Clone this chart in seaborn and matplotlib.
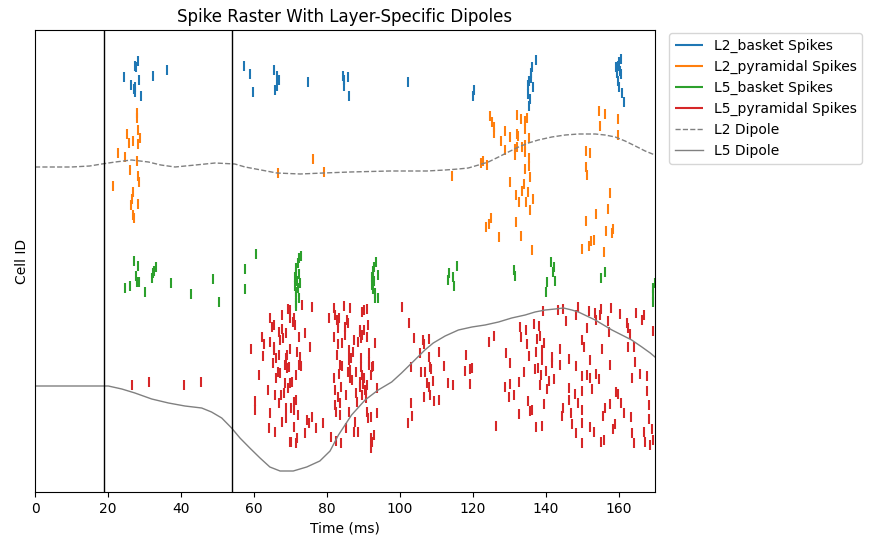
import numpy as np
import pandas as pd
import matplotlib
matplotlib.use("Agg")
import matplotlib.pyplot as plt
import seaborn as sns


l2_basket_spikes = [
    (28.2, 31), (27.4, 36), (27.7, 37), (24.3, 47), (28.4, 50), (32.3, 46),
    (36.1, 40), (26.3, 55), (27.1, 59), (27.4, 57), (27.3, 62), (29.0, 66),
    (57.3, 36), (58.9, 44), (59.8, 62), (65.5, 40), (66.3, 46), (66.8, 50),
    (66.3, 56), (65.8, 60), (74.8, 52), (84.4, 46), (84.7, 50), (84.7, 56),
    (85.8, 47), (86.1, 66), (102.3, 52),
    (137.4, 30), (136.3, 37), (136.1, 43), (135.9, 48), (135.4, 51), (135.2, 55),
    (136.6, 57), (135.1, 64), (135.8, 69), (135.5, 76), (120.3, 60), (120.1, 66),
    (160.6, 29), (160.2, 32), (159.8, 36), (160.4, 41), (159.5, 43), (160.7, 44),
    (159.8, 51), (160.2, 57), (161.0, 63), (161.5, 72), (159.4, 37),
]

l2_pyramidal_spikes = [
    (27.9, 83), (27.9, 88), (28.2, 100), (25.1, 104), (28.7, 108), (25.7, 113),
    (26.8, 111), (28.2, 114), (22.7, 123), (24.6, 127), (27.9, 131), (26.0, 140),
    (28.2, 146), (28.4, 152), (21.3, 156), (26.8, 162), (26.5, 169), (28.2, 174),
    (26.2, 175), (26.8, 185), (27.1, 188),
    (76.2, 129), (66.6, 143), (79.2, 142),
    (124.8, 86), (125.3, 92), (125.9, 97), (125.9, 103), (128.9, 101), (130.3, 107),
    (127.8, 111), (132.2, 85), (133.3, 89), (134.4, 91), (134.9, 88), (134.4, 99),
    (132.2, 104), (132.5, 106), (135.5, 108), (134.4, 115), (133.6, 117),
    (132.2, 117), (131.6, 119), (128.9, 120), (131.6, 125), (134.4, 122),
    (135.5, 128), (135.5, 136), (134.4, 139), (135.8, 147), (134.1, 154),
    (130.3, 152), (133.6, 161), (135.1, 162), (131.9, 165), (136.6, 169),
    (132.7, 172), (135.8, 180), (134.7, 172), (122.2, 133), (122.8, 131),
    (123.9, 135), (114.4, 146), (125.1, 188), (124.5, 194), (123.7, 197),
    (127.3, 207), (131.9, 192), (133.3, 206), (136.3, 220),
    (154.7, 81), (156.3, 84), (155.0, 96), (159.9, 89), (159.9, 105), (151.1, 121),
    (152.2, 123), (151.1, 137), (151.4, 145), (157.6, 163), (157.1, 179),
    (153.9, 184), (151.1, 191), (156.6, 201), (158.2, 203), (158.5, 199),
    (152.5, 211), (153.3, 210), (152.0, 216), (150.0, 219), (156.0, 222),
]

l5_basket_spikes = [
    (27.1, 231), (28.2, 236), (27.7, 246), (28.0, 252), (28.4, 252), (26.1, 256),
    (24.6, 258), (30.1, 262), (32.0, 248), (32.4, 243), (32.6, 241), (33.1, 237),
    (37.2, 253), (42.7, 264), (48.7, 249), (50.4, 272),
    (60.6, 224), (57.6, 239), (57.6, 259),
    (72.8, 226), (72.4, 228), (72.1, 233), (71.7, 238), (71.5, 243), (72.3, 244),
    (71.3, 247), (71.9, 251), (72.7, 253), (71.3, 256), (72.2, 258), (71.7, 262),
    (71.6, 267), (72.5, 268), (71.7, 273), (71.5, 276),
    (93.5, 232), (93.0, 237), (92.6, 241), (94.0, 245), (92.3, 247), (92.9, 251),
    (92.5, 255), (92.8, 259), (93.1, 263), (94.0, 268), (93.1, 268),
    (113.5, 243), (113.2, 250), (114.6, 247), (114.9, 256), (115.7, 236),
    (131.4, 240), (131.6, 246), (141.5, 232), (142.2, 237), (141.9, 242),
    (142.6, 251), (140.4, 252), (140.1, 262), (156.3, 242), (155.2, 248),
    (169.5, 258), (169.5, 265), (169.5, 272), (169.9, 253),
]

l5_pyramidal_spikes = [
    (26.5, 355), (31.2, 352), (40.8, 355), (45.4, 352),
    # first volley
    (59.2, 319), (60.4, 371), (60.3, 380), (61.3, 345), (62.2, 307), (62.4, 326),
    (62.7, 314), (64.3, 288), (64.5, 312), (64.4, 383), (64.1, 398), (63.9, 360),
    (64.9, 297), (65.4, 320), (65.6, 295), (65.5, 317), (65.8, 365), (66.1, 328),
    (66.1, 348), (65.7, 402), (65.3, 333), (66.6, 342), (66.8, 325), (66.9, 302),
    (67.1, 310), (66.8, 373), (67.2, 343), (67.5, 365), (67.6, 392), (67.7, 299),
    (67.8, 285), (68.1, 308), (68.3, 363), (68.5, 335), (68.6, 353), (68.7, 378),
    (68.9, 303), (68.8, 328), (68.9, 388), (69.1, 325), (69.3, 279), (69.0, 338),
    (69.4, 358), (69.6, 337), (69.8, 280), (69.8, 319), (69.9, 288), (69.8, 353),
    (69.8, 412), (70.2, 412), (70.1, 378), (70.4, 352), (70.8, 292), (71.0, 288),
    (71.2, 295), (70.9, 372), (71.0, 397), (71.0, 380), (71.5, 370), (71.5, 345),
    (71.7, 413), (71.9, 408), (71.8, 322), (72.1, 385), (72.4, 335), (72.7, 327),
    (73.0, 336), (72.3, 307), (73.1, 275), (74.1, 303), (74.1, 403), (74.5, 390),
    (75.2, 393), (75.4, 317), (76.0, 277), (76.0, 387), (77.0, 398), (79.0, 393),
    # second volley
    (80.6, 288), (81.1, 407), (81.9, 278), (82.1, 307), (82.0, 348), (82.2, 360),
    (82.2, 375), (82.3, 285), (82.5, 382), (82.6, 411), (82.7, 325), (82.8, 290),
    (83.1, 292), (83.0, 314), (83.2, 367), (83.2, 298), (83.3, 288), (83.4, 344),
    (83.5, 373), (83.6, 385), (83.7, 335), (83.9, 357), (84.1, 336), (84.1, 313),
    (83.9, 413), (84.7, 276), (84.9, 297), (85.1, 305), (85.4, 365), (85.4, 398),
    (85.5, 290), (85.7, 293), (85.9, 342), (86.0, 320), (86.0, 330), (86.1, 382),
    (86.3, 278), (86.4, 348), (86.5, 340), (86.7, 328), (87.0, 350), (87.2, 322),
    (87.5, 310), (87.5, 402), (87.7, 392), (88.0, 342), (88.1, 363), (88.3, 372),
    (88.6, 402), (88.7, 312), (89.0, 300), (89.0, 352), (89.1, 357), (89.2, 302),
    (89.3, 328), (89.4, 337), (89.5, 308), (89.6, 282), (89.6, 365), (89.6, 345),
    (89.7, 305), (89.9, 354), (90.1, 280), (90.3, 300), (90.3, 348), (90.4, 360),
    (90.7, 368), (90.8, 360), (90.9, 382), (91.0, 279), (91.1, 307), (91.1, 355),
    (91.2, 295), (91.3, 388), (91.6, 323), (91.6, 332), (91.7, 335), (92.0, 345),
    (92.1, 408), (92.2, 387), (92.4, 337), (92.5, 412), (92.8, 336), (92.9, 405),
    (93.2, 313), (93.7, 358), (93.9, 383), (92.0, 418),
    # late activity
    (100.5, 277), (102.2, 393), (102.5, 293), (103.1, 337), (103.1, 373),
    (103.5, 386), (103.9, 308), (105.6, 323), (105.9, 342), (106.4, 310),
    (106.6, 314), (106.6, 367), (106.9, 342),
    (107.4, 353), (107.9, 309), (107.9, 357), (108.0, 327), (108.3, 337),
    (108.5, 339), (109.0, 351), (109.4, 371), (110.7, 370), (110.9, 322),
    (108.3, 365), (112.1, 336),
    (139.3, 281), (143.4, 280), (144.8, 279), (148.9, 277), (145.6, 291),
    (148.4, 285), (151.9, 281), (153.6, 283), (153.9, 290), (155.0, 285),
    (155.2, 279), (158.0, 278), (157.1, 291), (160.4, 284), (162.4, 293),
    (162.6, 298), (163.2, 304), (164.8, 283), (166.5, 290), (167.0, 285),
    (169.5, 301), (157.4, 302), (151.4, 298), (150.0, 310), (150.6, 317),
    (155.5, 319), (162.6, 317), (164.3, 317), (133.0, 297), (134.7, 300),
    (136.9, 294), (138.2, 296), (133.3, 307), (134.9, 314), (137.7, 309),
    (138.5, 306), (139.6, 313), (124.5, 312), (125.9, 306), (118.2, 325),
    (117.9, 341), (119.2, 339), (119.8, 338), (129.2, 323), (130.3, 333),
    (135.5, 326), (137.4, 322), (139.1, 320), (139.1, 330), (141.8, 327),
    (141.8, 333), (144.0, 319), (144.0, 335), (146.5, 329), (148.4, 336),
    (152.2, 330), (157.7, 335), (164.6, 332), (134.1, 342), (137.1, 339),
    (138.0, 338), (138.8, 345), (140.2, 341), (113.2, 353), (114.6, 355),
    (119.3, 354), (128.9, 357), (130.3, 354), (132.7, 352), (138.5, 355),
    (140.4, 359), (141.0, 351), (142.3, 349), (150.0, 346), (151.4, 345),
    (152.2, 348), (153.9, 344), (154.7, 349), (163.7, 348), (165.9, 344),
    (167.8, 346), (130.0, 367), (131.4, 365), (135.2, 371), (139.6, 374),
    (146.5, 358), (146.5, 370), (148.1, 364), (148.9, 373), (150.0, 361),
    (152.8, 359), (159.2, 362), (159.8, 364), (160.7, 373), (167.8, 361),
    (132.7, 384), (135.8, 381), (136.3, 380), (144.8, 378), (144.5, 386),
    (147.0, 383), (150.0, 380), (156.3, 378), (157.7, 374), (161.5, 383),
    (155.8, 386), (163.5, 387), (168.4, 375), (168.4, 389), (126.4, 396),
    (137.4, 397), (139.1, 396), (147.3, 394), (150.0, 393), (152.2, 397),
    (153.3, 402), (158.5, 399), (159.1, 394), (163.7, 403), (167.0, 402),
    (169.2, 399), (148.4, 403), (150.0, 413), (155.2, 412), (156.0, 410),
    (164.3, 413), (167.3, 412), (168.7, 415), (169.5, 410),
]

# dipole traces, scaled into cell-id units as drawn on the raster
l2_dipole_t = [0, 10, 15, 18.3, 22, 26.5, 31.1, 34.5, 38.4, 44, 49.4, 54.8,
               57.6, 62, 66.3, 72.7, 79.1, 86.4, 97.3, 107.4, 112.45, 116.1,
               118.8, 121.6, 124.3, 127.1, 129.8, 132.6, 135.3, 138.0, 141.7,
               145.4, 149.0, 153.6, 156.3, 159.1, 161.8, 164.6, 167.3, 170]
l2_dipole_v = [137, 137, 136, 134, 132, 130, 132, 135, 137, 135, 133, 134,
               137, 140, 143, 144, 143, 142, 141, 141, 140, 139,
               138, 135, 132, 127, 122, 117, 113, 110, 107,
               105, 104, 104, 105, 107, 111, 116, 121, 125]

l5_dipole_t = [0, 18.3, 20.1, 23.8, 27.4, 32.0, 36.6, 41.1, 45.7, 48.4, 51.2,
               53.9, 56.2, 58.9, 61.7, 64.4, 67.2, 70.8, 74.5, 78.1, 80.9,
               83.2, 86.8, 90.5, 94.1, 97.8, 100.5, 103.3, 106.9, 109.2,
               112.45, 116.1, 119.8, 123.4, 127.1, 130.7, 134.4, 137.1, 139.9,
               142.6, 144.9, 147.2, 149.0, 151.3, 153.6, 155.9, 158.2, 160.9,
               163.6, 166.4, 168.7, 170]
l5_dipole_v = [356, 356, 356, 359, 363, 369, 373, 376, 378, 382, 388,
               398, 408, 418, 428, 437, 441, 441, 437, 431, 421,
               405, 385, 370, 360, 352, 343, 333, 320, 313,
               306, 300, 297, 295, 292, 288, 285, 282, 280,
               279, 278, 280, 282, 286, 290, 295, 300, 305,
               310, 317, 323, 327]

spike_groups = [
    ("L2_basket Spikes", l2_basket_spikes, "tab:blue"),
    ("L2_pyramidal Spikes", l2_pyramidal_spikes, "tab:orange"),
    ("L5_basket Spikes", l5_basket_spikes, "tab:green"),
    ("L5_pyramidal Spikes", l5_pyramidal_spikes, "tab:red"),
]
input_times = [19.0, 54.1]

fig = plt.figure(figsize=(8.73, 5.46), dpi=100)
ax = fig.add_axes([35 / 873, 54 / 546, 620 / 873, 462 / 546])

for label, spikes, color in spike_groups:
    df = pd.DataFrame(spikes, columns=["time", "cell"])
    ax.vlines(df["time"], df["cell"] - 5, df["cell"] + 5, color=color,
              linewidth=1.5, label=label)

dip = pd.DataFrame({"time": l2_dipole_t, "value": l2_dipole_v})
sns.lineplot(data=dip, x="time", y="value", ax=ax, color="gray", linestyle="--",
             linewidth=1, sort=False, estimator=None, label="L2 Dipole")
dip = pd.DataFrame({"time": l5_dipole_t, "value": l5_dipole_v})
sns.lineplot(data=dip, x="time", y="value", ax=ax, color="gray", linestyle="-",
             linewidth=1, sort=False, estimator=None, label="L5 Dipole")

for t in input_times:
    ax.axvline(t, color="black", linewidth=1)

ax.set_xlim(0, 170)
ax.set_ylim(462, 0)
ax.set_xticks(np.arange(0, 161, 20))
ax.set_yticks([])
ax.set_xlabel("Time (ms)")
ax.set_ylabel("Cell ID")
ax.set_title("Spike Raster With Layer-Specific Dipoles")
ax.legend(loc="upper left", bbox_to_anchor=(1.012, 1.008))

fig.savefig("out.png", dpi=100)
